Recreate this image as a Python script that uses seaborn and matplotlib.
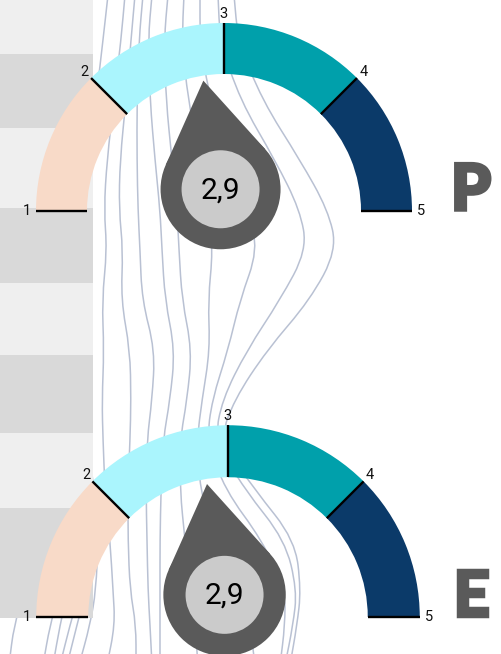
import numpy as np
import matplotlib
matplotlib.use("Agg")
import matplotlib.pyplot as plt
import matplotlib.patheffects as pe
from matplotlib.patches import Wedge, Circle, Polygon, PathPatch
from matplotlib.path import Path
import seaborn as sns

# gauge data
gauge_letters = ["P", "E"]
gauge_values = [2.9, 2.9]
tick_values = [1, 2, 3, 4, 5]
segment_colors = ["#f8dac8", "#aaf5fd", "#00a0ab", "#0b3a69"]

# background bands (image rows, top -> bottom)
band_edges = [0, 54, 128, 208, 283, 355, 433, 508, 618]
band_colors = ["#efefef", "#d9d9d9"]

# flowing background lines: x position at each y level
y_levels = [-5, 40, 100, 160, 210, 250, 300, 350, 400, 440, 490, 540, 590, 625, 665]
line_a = [60, 60, 60, 60, 60, 60, 60, 60, 60, 60, 58, 45, 25, 14, 9]
line_b = [80, 80, 80, 80, 80, 80, 80, 80, 80, 80, 78, 70, 60, 50, 43]
line_c = [108, 103, 96, 90, 86, 84, 86, 88, 88, 88, 86, 78, 68, 60, 53]
line_n = [70, 70, 70, 70, 70, 70, 70, 70, 70, 70, 80, 84, 80, 70, 60]
line_o = [75, 75, 75, 75, 75, 75, 75, 75, 75, 80, 88, 90, 86, 77, 67]
line_p = [85, 85, 85, 85, 85, 85, 85, 85, 85, 88, 94, 98, 96, 90, 79]
line_d = [125, 121, 114, 107, 104, 107, 102, 104, 102, 103, 105, 110, 113, 115, 107]
line_e = [135, 131, 126, 120, 119, 123, 121, 130, 131, 130, 128, 128, 130, 136, 136]
line_f = [143, 139, 137, 137, 138, 140, 142, 155, 152, 147, 146, 147, 148, 150, 152]
line_g = [152, 148, 150, 155, 160, 162, 165, 175, 170, 163, 161, 160, 160, 160, 160]
line_h = [168, 164, 166, 172, 177, 179, 182, 192, 187, 180, 180, 185, 190, 195, 198]
line_i = [184, 182, 188, 200, 208, 213, 208, 210, 202, 197, 200, 215, 235, 250, 255]
line_j = [200, 200, 210, 230, 248, 258, 240, 228, 212, 207, 225, 262, 285, 285, 280]
line_k = [218, 220, 240, 275, 300, 307, 280, 247, 222, 215, 245, 285, 297, 293, 285]
line_l = [234, 238, 262, 300, 328, 337, 310, 267, 234, 220, 255, 295, 301, 297, 290]
flow_lines = [line_a, line_b, line_c, line_n, line_o, line_p, line_d, line_e,
              line_f, line_g, line_h, line_i, line_j, line_k, line_l]

# gauge geometry (pixels)
gauge_centers = [(224, 211), (228, 617)]
gauge_scale = [1.0, 1.02]
R_OUT, R_IN = 188, 137
DROP_R, DROP_IN, DROP_TIP, DROP_LIFT = 60, 39, 110, 22
NEEDLE_SKEW = 4.5

sns.set_theme(style="white")
plt.rcParams["font.family"] = ["Roboto", "DejaVu Sans"]

fig = plt.figure(figsize=(5.01, 6.54), dpi=100)
ax = fig.add_axes([0, 0, 1, 1])
ax.set_xlim(0, 501)
ax.set_ylim(654, 0)
ax.axis("off")


def smooth_path(xs, ys):
    pts = list(zip(xs, ys))
    verts = [pts[0], ((pts[0][0] + pts[1][0]) / 2, (pts[0][1] + pts[1][1]) / 2)]
    codes = [Path.MOVETO, Path.LINETO]
    for i in range(1, len(pts) - 1):
        mid = ((pts[i][0] + pts[i + 1][0]) / 2, (pts[i][1] + pts[i + 1][1]) / 2)
        verts += [pts[i], mid]
        codes += [Path.CURVE3, Path.CURVE3]
    verts.append(pts[-1])
    codes.append(Path.LINETO)
    return Path(verts, codes)


for xs in flow_lines:
    ax.add_patch(PathPatch(smooth_path(xs, y_levels), fill=False,
                           edgecolor="#b9c1d3", lw=1.1, zorder=1))

# left bands
tops = band_edges[:-1]
heights = np.diff(band_edges)
ax.barh([t + h / 2 for t, h in zip(tops, heights)], [93] * len(tops), height=heights,
        left=0, color=[band_colors[i % 2] for i in range(len(tops))],
        edgecolor="none", linewidth=0, zorder=2)


def angle(v):
    return 180 - 45 * (v - 1)


for letter, value, (cx, cy), s in zip(gauge_letters, gauge_values, gauge_centers, gauge_scale):
    ro, ri = R_OUT * s, R_IN * s
    for k, col in enumerate(segment_colors):
        a1, a2 = angle(tick_values[k]), angle(tick_values[k + 1])
        ax.add_patch(Wedge((cx, cy), ro, -a1, -a2, width=ro - ri, color=col, lw=0, zorder=3))
    for v in tick_values:
        a = np.radians(angle(v))
        ax.plot([cx + ri * np.cos(a), cx + ro * np.cos(a)],
                [cy - ri * np.sin(a), cy - ro * np.sin(a)], color="black", lw=1.7,
                solid_capstyle="butt", zorder=4)
        rl = ro + 9
        ax.text(cx + rl * np.cos(a), cy - rl * np.sin(a), str(v), fontsize=10.5,
                ha="center", va="center", color="#111111", zorder=6)

    # needle drop
    phi = np.radians(angle(value) + NEEDLE_SKEW)
    dr, din, dt = DROP_R * s, DROP_IN, DROP_TIP * s
    dx, dy = cx + DROP_LIFT * np.cos(phi), cy - DROP_LIFT * s * np.sin(phi)
    tip = (dx + dt * np.cos(phi), dy - dt * np.sin(phi))
    alpha = np.arccos(dr / dt)
    t1 = (dx + dr * np.cos(phi + alpha), dy - dr * np.sin(phi + alpha))
    t2 = (dx + dr * np.cos(phi - alpha), dy - dr * np.sin(phi - alpha))
    ax.add_patch(Polygon([tip, t1, t2], closed=True, color="#5a5a5a", lw=0, zorder=5))
    ax.add_patch(Circle((dx, dy), dr, color="#5a5a5a", lw=0, zorder=5))
    ax.add_patch(Circle((dx, dy), din, color="#cbcbcb", lw=0, zorder=5))
    ax.text(dx, dy + 1, f"{value:.1f}".replace(".", ","), fontsize=21.5, ha="center",
            va="center", color="black", zorder=6)

    ax.text(471, cy - 1, letter, fontsize=46, fontweight="black", color="#5a5a5a",
            ha="center", va="baseline", family=["Lato", "DejaVu Sans"], zorder=6,
            path_effects=[pe.withStroke(linewidth=2.5, foreground="#5a5a5a",
                                        joinstyle="miter")])

fig.savefig("out.png", dpi=100)
